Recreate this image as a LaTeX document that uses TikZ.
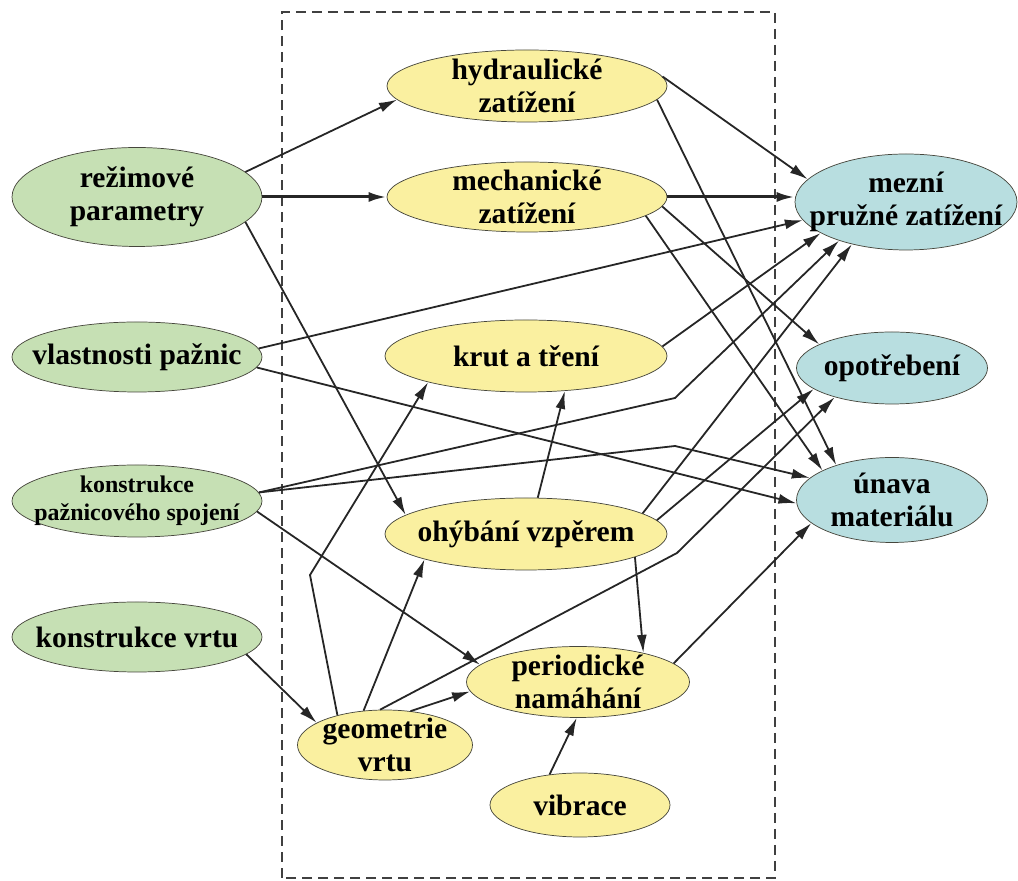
\documentclass[tikz,border=0pt]{standalone}
\usepackage{fontspec}
\setmainfont{Liberation Serif}
\usetikzlibrary{shapes.geometric,arrows.meta}

\definecolor{zelena}{RGB}{198,224,180}
\definecolor{zluta}{RGB}{250,240,160}
\definecolor{modra}{RGB}{184,222,224}
\definecolor{obrys}{RGB}{70,70,60}

\begin{document}
\begin{tikzpicture}[
    elips/.style={ellipse, draw=obrys, line width=0.018cm, inner xsep=-20pt, inner ysep=-8pt,
      align=center, font=\fontsize{21}{23.5}\selectfont\bfseries},
    vstup/.style={elips, fill=zelena},
    uzel/.style={elips, fill=zluta},
    vystup/.style={elips, fill=modra},
    sipka/.style={-{Latex[length=0.45cm,width=0.25cm]}, line width=0.045cm, draw=black!85},
    silna/.style={sipka, line width=0.075cm},
  ]
                \useasboundingbox (0,0) rectangle (25.450000,22.025000);

                % Frame around the inner nodes
                \draw [dash pattern=on 0.25cm off 0.15cm, line width=0.045cm, black!75] (7.050000,0.075000) rectangle (19.375000,21.725000);%

                % Marking input nodes
                \node [vstup, minimum width=6.25cm, minimum height=2.475cm] (rezim) at (3.425000,17.100000) {režimové\\parametry};%
                \node [vstup, minimum width=6.25cm, minimum height=1.75cm] (vlast) at (3.425000,13.100000) {vlastnosti pažnic};%
                \node [vstup, minimum width=6.25cm, minimum height=1.8cm, font=\fontsize{17}{20}\selectfont\bfseries] (konspoj) at (3.425000,9.500000) {konstrukce\\pažnicového spojení};%
                \node [vstup, minimum width=6.25cm, minimum height=1.75cm] (konsvrt) at (3.425000,6.100000) {konstrukce vrtu};%

                % Marking inner nodes
                \node [uzel, minimum width=7.0cm, minimum height=1.8cm] (hydr) at (13.175000,19.875000) {hydraulické\\zatížení};%
                \node [uzel, minimum width=7.0cm, minimum height=1.75cm] (mech) at (13.175000,17.100000) {mechanické\\zatížení};%
                \node [uzel, minimum width=7.05cm, minimum height=1.8cm] (krut) at (13.150000,13.125000) {krut a tření};%
                \node [uzel, minimum width=7.05cm, minimum height=1.8cm] (ohyb) at (13.150000,8.675000) {ohýbání vzpěrem};%
                \node [uzel, minimum width=5.575cm, minimum height=1.775cm] (perio) at (14.450000,4.975000) {periodické\\namáhání};%
                \node [uzel, minimum width=4.375cm, minimum height=1.75cm] (geom) at (9.625000,3.400000) {geometrie\\vrtu};%
                \node [uzel, minimum width=4.5cm, minimum height=1.6cm] (vibr) at (14.500000,1.900000) {vibrace};%

                % Marking output nodes
                \node [vystup, minimum width=5.55cm, minimum height=2.4cm] (mezni) at (22.650000,16.975000) {mezní\\pružné zatížení};%
                \node [vystup, minimum width=4.775cm, minimum height=1.8cm] (opotr) at (22.300000,12.825000) {opotřebení};%
                \node [vystup, minimum width=4.775cm, minimum height=2.125cm] (unava) at (22.300000,9.525000) {únava\\materiálu};%

                % Bends of the broken lines
                \coordinate (zlom1) at (16.875000,12.075000);%
                \coordinate (zlom2) at (16.875000,10.875000);%
                \coordinate (zlom3) at (16.925000,8.200000);%
                \coordinate (zlom4) at (7.750000,7.650000);%

                % Drawing lines from input nodes
                \draw [sipka] (rezim.13) -- (hydr.186);%
                \draw [silna] (rezim.east) -- (mech.west);%
                \draw [sipka] (rezim.347) -- (ohyb.171);%
                \draw [sipka] (vlast.4) -- (mezni.190);%
                \draw [sipka] (vlast.355) -- (unava.182);%
                \draw [sipka] (konspoj.4) -- (zlom1) -- (mezni.210);%
                \draw [sipka] (konspoj.4) -- (zlom2) -- (unava.165);%
                \draw [sipka] (konspoj.355) -- (perio.170);%
                \draw [sipka] (konsvrt.351) -- (geom.162);%

                % Drawing lines from inner nodes
                \draw [sipka] (hydr.4) -- (mezni.167);%
                \draw [sipka] (hydr.354) -- (unava.148);%
                \draw [silna] (mech.east) -- (mech.east -| mezni.west);%
                \draw [sipka] (mech.356) -- (opotr.162);%
                \draw [sipka] (mech.351) -- (unava.157);%
                \draw [sipka] (krut.4) -- (mezni.200);%
                \draw [sipka] (ohyb.72) -- (krut.318);%
                \draw [sipka] (ohyb.10) -- (mezni.218);%
                \draw [sipka] (ohyb.6) -- (opotr.195);%
                \draw [sipka] (ohyb.348) -- (perio.24);%
                \draw [sipka] (geom.148) -- (zlom4) -- (krut.195);%
                \draw [sipka] (geom.122) -- (ohyb.194);%
                \draw [sipka] (geom.53) -- (perio.185);%
                \draw [sipka] (geom.98) -- (zlom3) -- (opotr.207);%
                \draw [sipka] (perio.11) -- (unava.196);%
                \draw [sipka] (vibr.135) -- (perio.268);%
\end{tikzpicture}
\end{document}
